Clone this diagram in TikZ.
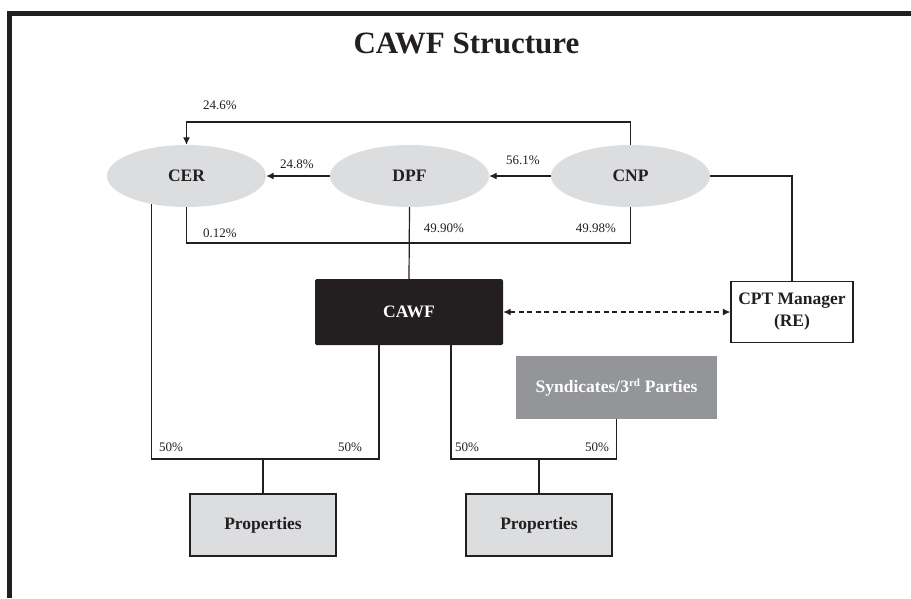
\documentclass[tikz,border=0pt]{standalone}
\usepackage{fontspec}
\setmainfont{Liberation Serif}
\usetikzlibrary{arrows.meta,shapes.geometric,calc}
\definecolor{ink}{HTML}{231F20}
\definecolor{lightgr}{HTML}{DCDDDF}
\definecolor{midgr}{HTML}{939598}
\tikzset{
  oval/.style={ellipse, fill=lightgr, draw=none, minimum width=159pt, minimum height=62pt, inner sep=0pt,
    text=ink, font=\fontsize{17.5}{20}\selectfont\bfseries},
  boxbase/.style={rectangle, inner sep=0pt, font=\fontsize{17.5}{22}\selectfont\bfseries, align=center},
  link/.style={draw=ink, line width=1.2pt},
  tip/.tip={Latex[length=7.5pt,width=7pt]},
  arr/.style={link, -tip},
  pct/.style={inner sep=0pt, text=ink, font=\fontsize{13}{15}\selectfont}
}
\begin{document}
\begin{tikzpicture}[x=1pt,y=-1pt]
\useasboundingbox (0,0) rectangle (911,598);
% frame
\fill[ink] (7,11) rectangle (911,16);
\fill[ink] (7,11) rectangle (12,598);
% title
\node[inner sep=0pt, text=ink, font=\fontsize{31}{34}\selectfont\bfseries] (title) at (466.5,43.5) {CAWF Structure};
% ellipses
\node[oval] (cer) at (186.5,176) {CER};
\node[oval] (dpf) at (409.5,176) {DPF};
\node[oval] (cnp) at (630.5,176) {CNP};
% boxes
\node[boxbase, fill=ink, text=white, minimum width=188pt, minimum height=66pt, rounded corners=1.5pt] (cawf) at (409,312) {CAWF};
\node[boxbase, fill=white, draw=ink, line width=1.2pt, text=ink, minimum width=122pt, minimum height=61pt] (cpt) at (792,312) {CPT Manager\\(RE)};
\node[boxbase, fill=midgr, text=white, minimum width=201pt, minimum height=63pt] (synd) at (616.5,387.5) {Syndicates/3\textsuperscript{\fontsize{11}{12}\selectfont rd} Parties};
\node[boxbase, fill=lightgr, draw=ink, line width=1.2pt, text=ink, minimum width=146pt, minimum height=62pt] (prop1) at (263,525) {Properties};
\node[boxbase, fill=lightgr, draw=ink, line width=1.2pt, text=ink, minimum width=146pt, minimum height=62pt] (prop2) at (539,525) {Properties};
% helper coordinates
\coordinate (top) at (0,122);
\coordinate (mid) at (0,243);
\coordinate (bus) at (0,459);
\coordinate (cawfL) at ([xshift=-30pt]cawf.south);
\coordinate (cawfR) at ([xshift=42pt]cawf.south);
% connectors
\draw[arr] (cnp.north) -- (cnp.north |- top) -| (cer.north);
\draw[arr] (dpf.west) -- (cer.east);
\draw[arr] (cnp.west) -- (dpf.east);
\draw[link] (cer.south) -- (cer.south |- mid) -| (cnp.south);
\draw[link] (dpf.south) -- (cawf.north);
\draw[link] (cer.219) -- (cer.219 |- bus) -| (cawfL);
\draw[link] (prop1.north) -- (prop1.north |- bus);
\draw[link] (cawfR) -- (cawfR |- bus) -| (synd.south);
\draw[link] (prop2.north) -- (prop2.north |- bus);
\draw[link, dash pattern=on 5pt off 3.5pt, tip-tip] (cawf.east) -- (cpt.west);
\draw[link] (cnp.east) -| (cpt.north);
% labels
\node[pct] (l246) at (220,105) {24.6\%};
\node[pct] (l248) at (297,164) {24.8\%};
\node[pct] (l561) at (523,160) {56.1\%};
\node[pct] (l012) at (220,233) {0.12\%};
\node[pct] (l4990) at (444,228) {49.90\%};
\node[pct] (l4998) at (596,228) {49.98\%};
\node[pct] (l50a) at (171,447) {50\%};
\node[pct] (l50b) at (350,447) {50\%};
\node[pct] (l50c) at (467,447) {50\%};
\node[pct] (l50d) at (597,447) {50\%};
\end{tikzpicture}
\end{document}
